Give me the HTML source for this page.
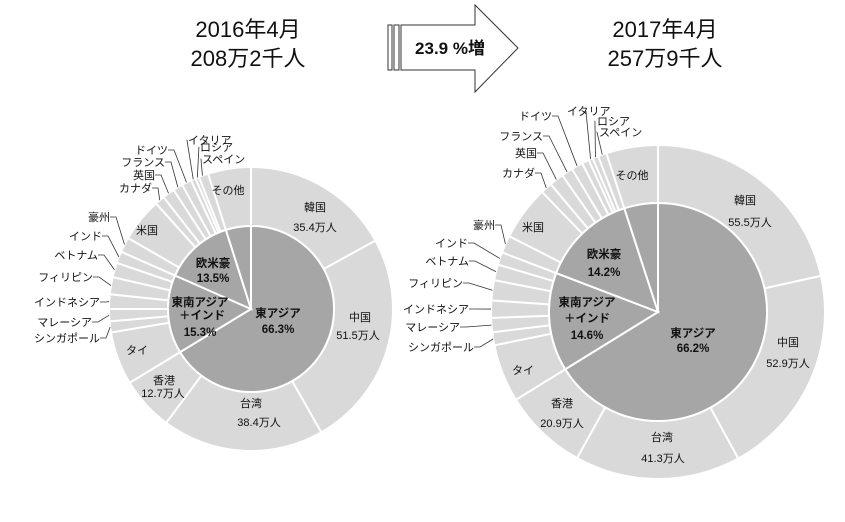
<!DOCTYPE html>
<html><head><meta charset="utf-8"><style>
body{margin:0;background:#fff;}
svg{display:block;font-family:"Liberation Sans","Noto Sans CJK JP",sans-serif;}
.s{font-size:11px;fill:#111}
.b{font-size:11.5px;font-weight:bold;fill:#111}
.t{font-size:22px;fill:#111}
</style></head><body>
<svg id="sv" width="845" height="522" viewBox="0 0 845 522">
<g id="pies"></g>
<text class="t" x="248" y="37" text-anchor="middle">2016年4月</text>
<text class="t" x="248" y="66" text-anchor="middle">208万2千人</text>
<text class="t" x="665" y="37" text-anchor="middle">2017年4月</text>
<text class="t" x="665" y="66" text-anchor="middle">257万9千人</text>
<g fill="#fff" stroke="#333" stroke-width="1">
<rect x="388" y="25" width="4" height="45"/>
<rect x="394" y="25" width="5" height="45"/>
<path d="M401 25 H475 V5 L518 48 L475 92 V70 H401 Z"/>
</g>
<text x="450" y="54" text-anchor="middle" style="font-size:17px;font-weight:bold;fill:#111">23.9 %増</text>

<!-- left labels -->
<g class="s" text-anchor="middle">
<text x="315" y="211">韓国</text><text x="315" y="231">35.4万人</text>
<text x="360" y="321">中国</text><text x="358" y="339">51.5万人</text>
<text x="251" y="407">台湾</text><text x="259" y="426">38.4万人</text>
<text x="164" y="384">香港</text><text x="163" y="397">12.7万人</text>
<text x="137" y="354">タイ</text><text x="147" y="234">米国</text>
<text x="228" y="194">その他</text>
</g>
<g class="b" text-anchor="middle">
<text x="213" y="267">欧米豪</text><text x="213" y="282">13.5%</text>
<text x="200" y="306">東南アジア</text><text x="202" y="319">＋インド</text><text x="200" y="336">15.3%</text>
<text x="278" y="317">東アジア</text><text x="278" y="333">66.3%</text>
</g>
<g class="s" text-anchor="end">
<text x="110" y="221">豪州</text><text x="102" y="240">インド</text><text x="98" y="259">ベトナム</text>
<text x="93" y="281">フィリピン</text><text x="100" y="306">インドネシア</text><text x="92" y="326">マレーシア</text>
<text x="100" y="342">シンガポール</text><text x="152" y="192">カナダ</text><text x="155" y="179">英国</text>
<text x="165" y="166">フランス</text><text x="168" y="154">ドイツ</text>
</g>
<g class="s"><text x="188" y="144">イタリア</text><text x="200" y="151">ロシア</text><text x="202" y="163">スペイン</text></g>

<!-- right labels -->
<g class="s" text-anchor="middle">
<text x="745" y="204">韓国</text><text x="750" y="226">55.5万人</text>
<text x="788" y="346">中国</text><text x="788" y="367">52.9万人</text>
<text x="662" y="441">台湾</text><text x="663" y="462">41.3万人</text>
<text x="562" y="407">香港</text><text x="562" y="427">20.9万人</text>
<text x="523" y="374">タイ</text><text x="533" y="231">米国</text>
<text x="632" y="179">その他</text>
</g>
<g class="b" text-anchor="middle">
<text x="604" y="258">欧米豪</text><text x="604" y="276">14.2%</text>
<text x="587" y="306">東南アジア</text><text x="587" y="322">＋インド</text><text x="587" y="339">14.6%</text>
<text x="693" y="337">東アジア</text><text x="693" y="352">66.2%</text>
</g>
<g class="s" text-anchor="end">
<text x="495" y="229">豪州</text><text x="468" y="247">インド</text><text x="469" y="265">ベトナム</text>
<text x="463" y="287">フィリピン</text><text x="469" y="313">インドネシア</text><text x="460" y="331">マレーシア</text>
<text x="474" y="351">シンガポール</text><text x="535" y="177">カナダ</text><text x="537" y="157">英国</text>
<text x="543" y="140">フランス</text><text x="552" y="120">ドイツ</text>
</g>
<g class="s"><text x="567" y="115">イタリア</text><text x="597" y="125">ロシア</text><text x="599" y="136">スペイン</text></g>
</svg>
<script>
var g=document.getElementById('pies'),NS='http://www.w3.org/2000/svg';
function pt(cx,cy,r,a){a=a*Math.PI/180;return [cx+r*Math.sin(a),cy-r*Math.cos(a)];}
function wedge(cx,cy,r0,r1,a0,a1,fill){
 var p=document.createElementNS(NS,'path'),l=(a1-a0)>180?1:0;
 var A=pt(cx,cy,r1,a0),B=pt(cx,cy,r1,a1),C=pt(cx,cy,r0,a1),D=pt(cx,cy,r0,a0);
 var d='M'+A+' A'+r1+' '+r1+' 0 '+l+' 1 '+B;
 d+= r0>0 ? ' L'+C+' A'+r0+' '+r0+' 0 '+l+' 0 '+D+' Z' : ' L'+cx+','+cy+' Z';
 p.setAttribute('d',d);p.setAttribute('fill',fill);p.setAttribute('stroke','#fff');p.setAttribute('stroke-width','2');g.appendChild(p);}
function line(pts){var p=document.createElementNS(NS,'polyline');p.setAttribute('points',pts.join(' '));p.setAttribute('fill','none');p.setAttribute('stroke','#333');p.setAttribute('stroke-width','0.8');g.appendChild(p);}
function pie(cx,cy,R,r,inner,outer,leads){
 var a=0;outer.forEach(function(v){wedge(cx,cy,r,R,a,v,'#d9d9d9');a=v;});
 a=0;inner.forEach(function(v){wedge(cx,cy,0,r,a,v,'#a6a6a6');a=v;});
 leads.forEach(function(L){var q=pt(cx,cy,R,L[2]);line([[L[0],L[1]],[L[0]+6*(L[3]||1),L[1]],q]);});
}
pie(251,309,142,83,[238.7,293.8,342.4,360],
 [61.2,150.3,216.7,238.7,260.5,265,270,276,283,289,293.8,300,318,322,327,331,335,337,338.5,342.4,360],
 [[110,217,297],[102,236,291.5],[98,255,286],[93,277,279.5],[100,302,273],[92,322,267.5],[100,338,262.7],
  [152,188,320],[155,175,324.5],[165,162,329],[168,150,333],[187,140,336,-0.01],[199,147,337.8,-0.01],[201,159,340,-0.01]]);
pie(658,312,167,109,[238.3,290.9,342,360],
 [77.5,151.3,209,238.3,258.5,263,268,274,281,286.5,290.9,297,316,320,325,329,333,335.5,337,339,342,360],
 [[495,225,294],[468,243,288.7],[469,261,284],[463,283,277.5],[469,309,271],[460,327,265.5],[474,347,260.7],
  [535,173,318],[537,153,322.5],[543,136,327],[552,116,331],[586,111,336.2,-0.01],[595,121,338,-0.01],[597,132,340.5,-0.01]]);
</script>
</body></html>
